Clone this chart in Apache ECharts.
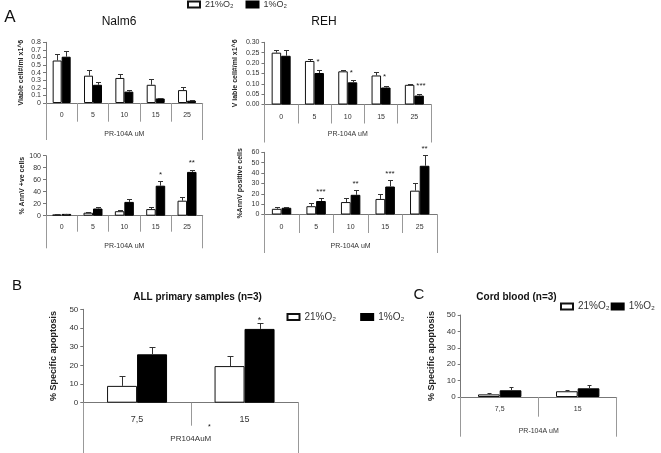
<!DOCTYPE html>
<html><head><meta charset="utf-8">
<script src="https://cdn.jsdelivr.net/npm/echarts@6/dist/echarts.min.js"></script>
<style>html,body{margin:0;padding:0;background:#fff}#c{width:661px;height:453px}</style>
</head><body><div id="c"></div>
<script>
// ---------- data ----------
const doses = ['0', '5', '10', '15', '25'];
const outerLabelA = ['PR-104A uM'];
const nalmViab21 = [0.56, 0.36, 0.33, 0.24, 0.17];
const nalmViab21Err = [0.08, 0.08, 0.05, 0.08, 0.04];
const nalmViab1 = [0.61, 0.24, 0.15, 0.06, 0.03];
const nalmViab1Err = [0.07, 0.04, 0.02, 0.01, 0.005];
const nalmViabStars = ['', '', '', '', ''];
const rehViab21 = [0.25, 0.21, 0.16, 0.14, 0.095];
const rehViab21Err = [0.012, 0.008, 0.008, 0.015, 0.005];
const rehViab1 = [0.235, 0.152, 0.107, 0.082, 0.043];
const rehViab1Err = [0.03, 0.015, 0.011, 0.005, 0.006];
const rehViabStars = ['', '*', '*', '*', '***'];
const nalmAnnV21 = [2, 5, 7.5, 11, 25];
const nalmAnnV21Err = [0.5, 1.5, 2, 4, 6];
const nalmAnnV1 = [3, 12, 23, 50, 73];
const nalmAnnV1Err = [0.5, 2, 4.5, 8, 4];
const nalmAnnVStars = ['', '', '', '*', '**'];
const rehAnnV21 = [5.5, 8, 12, 15, 23];
const rehAnnV21Err = [2, 3, 3.5, 5, 7];
const rehAnnV1 = [6.5, 13, 19, 27, 47];
const rehAnnV1Err = [1, 2.5, 4.5, 6.5, 10];
const rehAnnVStars = ['', '***', '**', '***', '**'];
const primDoses = ['7,5', '15'];
const outerLabelB = ['PR104AuM'];
const allApop21 = [9, 19.6];
const allApop21Err = [5.4, 5.4];
const allApop1 = [25.9, 39.5];
const allApop1Err = [4.1, 3];
const allApopStars = ['', '*'];
const cordDoses = ['7,5', '15'];
const outerLabelC = ['PR-104A uM'];
const cord21 = [1.6, 3.5];
const cord21Err = [0.6, 0.5];
const cord1 = [4.1, 5.3];
const cord1Err = [2, 2];
const cordStars = ['', ''];
const seriesNames = ['21%O₂', '1%O₂'];

// ---------- layout ----------
const FONT = '"Liberation Sans", Arial, sans-serif';
const TXT = '#333';
const panels = [
  {grid:{left:46, top:42.3, width:156.7, height:60.7}, cats:doses, outer:outerLabelA, max:0.8, interval:0.1, fmt:null,
   v21:nalmViab21, e21:nalmViab21Err, v1:nalmViab1, e1:nalmViab1Err, stars:nalmViabStars, starMode:'black', starGap:8, starFs:8,
   barW:9, cap:5, tick:18.7, outerTick:37, labM:8.5, outM:27.5, fs:7, yfs:7, outFs:7,
   yName:'Viable cell#/ml x1^6', yNameGap:21, yNameFs:7},
  {grid:{left:264.5, top:42.3, width:166.5, height:62.2}, cats:doses, outer:outerLabelA, max:0.3, interval:0.05, fmt:v=>v.toFixed(2),
   v21:rehViab21, e21:rehViab21Err, v1:rehViab1, e1:rehViab1Err, stars:rehViabStars, starMode:'white', starGap:0, starFs:8,
   barW:9.5, cap:5, tick:19, outerTick:38, labM:9, outM:26.5, fs:7, yfs:7, outFs:7,
   yName:'V iable cell#/ml x1^6', yNameGap:26, yNameFs:7},
  {grid:{left:46, top:155.7, width:156.7, height:60}, cats:doses, outer:outerLabelA, max:100, interval:20, fmt:null,
   v21:nalmAnnV21, e21:nalmAnnV21Err, v1:nalmAnnV1, e1:nalmAnnV1Err, stars:nalmAnnVStars, starMode:'black', starGap:8, starFs:8,
   barW:9.5, cap:5, tick:16, outerTick:32.6, labM:8, outM:27, fs:7, yfs:7, outFs:7,
   yName:'% AnnV +ve cells', yNameGap:20, yNameFs:7},
  {grid:{left:264.3, top:152.3, width:172.7, height:62.2}, cats:doses, outer:outerLabelA, max:60, interval:10, fmt:null,
   v21:rehAnnV21, e21:rehAnnV21Err, v1:rehAnnV1, e1:rehAnnV1Err, stars:rehAnnVStars, starMode:'black', starGap:8, starFs:8,
   barW:9.7, cap:5, tick:18.5, outerTick:38.5, labM:9, outM:28, fs:7, yfs:7, outFs:7,
   yName:'%AnnV positive cells', yNameGap:20.5, yNameFs:7},
  {grid:{left:83.3, top:309.3, width:215, height:93.4}, cats:primDoses, outer:outerLabelB, max:50, interval:10, fmt:null,
   v21:allApop21, e21:allApop21Err, v1:allApop1, e1:allApop1Err, stars:allApopStars, starMode:'black', starGap:5, starFs:9,
   barW:30, cap:6, tick:23, outerTick:52, labM:12, outM:32.5, fs:9, yfs:8, outFs:8,
   yName:'% Specific apoptosis', yNameGap:25.5, yNameFs:9},
  {grid:{left:460.7, top:315, width:156, height:82}, cats:cordDoses, outer:outerLabelC, max:50, interval:10, fmt:null,
   v21:cord21, e21:cord21Err, v1:cord1, e1:cord1Err, stars:cordStars, starMode:'black', starGap:5, starFs:9,
   barW:21.7, cap:4, tick:19.7, outerTick:39.7, labM:9, outM:30.5, fs:7, yfs:8, outFs:7,
   yName:'% Specific apoptosis', yNameGap:24.5, yNameFs:9}
];

const grid = [], xAxis = [], yAxis = [], series = [];
panels.forEach((p, gi) => {
  grid.push(Object.assign({containLabel:false}, p.grid));
  xAxis.push({type:'category', gridIndex:gi, data:p.cats, position:'bottom',
    axisLine:{show:true, lineStyle:{color:'#777', width:1}},
    axisTick:{show:true, interval:0, length:p.tick, lineStyle:{color:'#999'}},
    axisLabel:{interval:0, margin:p.labM, fontSize:p.fs, color:TXT, fontFamily:FONT},
    splitLine:{show:false}});
  xAxis.push({type:'category', gridIndex:gi, data:p.outer, position:'bottom',
    axisLine:{show:false},
    axisTick:{show:true, interval:0, length:p.outerTick, lineStyle:{color:'#999'}},
    axisLabel:{interval:0, margin:p.outM, fontSize:p.outFs, color:TXT, fontFamily:FONT},
    splitLine:{show:false}});
  yAxis.push({type:'value', gridIndex:gi, min:0, max:p.max, interval:p.interval,
    axisLine:{show:true, lineStyle:{color:'#777'}},
    axisTick:{show:true, length:3, lineStyle:{color:'#777'}},
    axisLabel:{fontSize:p.yfs, color:TXT, fontFamily:FONT, margin:5, formatter:p.fmt || undefined},
    splitLine:{show:false},
    name:p.yName, nameLocation:'middle', nameRotate:90, nameGap:p.yNameGap,
    nameTextStyle:{fontSize:p.yNameFs, fontWeight:'bold', color:'#222', fontFamily:FONT}});
  const xi = gi * 2;
  series.push({type:'bar', name:seriesNames[0], xAxisIndex:xi, yAxisIndex:gi, data:p.v21,
    barWidth:p.barW, barGap:'0%', itemStyle:{color:'#fff', borderColor:'#111', borderWidth:1}});
  series.push({type:'bar', name:seriesNames[1], xAxisIndex:xi, yAxisIndex:gi, data:p.v1,
    barWidth:p.barW, barGap:'0%', itemStyle:{color:'#000', borderColor:'#000', borderWidth:1}});
  const errData = p.cats.map((c, i) => [i, p.v21[i], p.e21[i], p.v1[i], p.e1[i]]);
  series.push({type:'custom', xAxisIndex:xi, yAxisIndex:gi, data:errData, z:5, silent:true,
    encode:{x:0, y:1},
    renderItem:(params, api) => {
      const i = api.value(0);
      const ch = [];
      [[1, -1], [3, 1]].forEach(([k, side]) => {
        const v = api.value(k), e = api.value(k + 1);
        const b = api.coord([i, v]), t = api.coord([i, v + e]);
        const x = Math.round(b[0] + side * p.barW / 2) + 0.5;
        const yt = Math.round(t[1]) + 0.5;
        ch.push({type:'line', shape:{x1:x, y1:b[1], x2:x, y2:yt}, style:{stroke:'#333', lineWidth:1}});
        ch.push({type:'line', shape:{x1:x - p.cap / 2, y1:yt, x2:x + p.cap / 2, y2:yt}, style:{stroke:'#333', lineWidth:1}});
      });
      const s = p.stars[params.dataIndex];
      if (s) {
        if (p.starMode === 'white') {
          const c = api.coord([i, api.value(1)]);
          ch.push({type:'text', x:c[0] + 2, y:c[1] + 1, style:{text:s, fill:'#222', fontSize:p.starFs, fontFamily:FONT, align:'left', verticalAlign:'middle'}});
        } else {
          const c = api.coord([i, api.value(3) + api.value(4)]);
          ch.push({type:'text', x:c[0] + p.barW / 2, y:c[1] - p.starGap + p.starFs * 0.22, style:{text:s, fill:'#222', fontSize:p.starFs, fontFamily:FONT, align:'center', verticalAlign:'middle'}});
        }
      }
      return {type:'group', children:ch};
    }});
});

const legendBase = {data:seriesNames, icon:'rect', itemWidth:12, itemHeight:6, padding:0, selectedMode:false,
  textStyle:{fontFamily:FONT, color:TXT}};
const legend = [
  Object.assign({}, legendBase, {left:187, top:0, itemGap:12, textStyle:{fontFamily:FONT, color:TXT, fontSize:9}}),
  Object.assign({}, legendBase, {left:286.5, top:312, itemGap:24, textStyle:{fontFamily:FONT, color:TXT, fontSize:10}}),
  Object.assign({}, legendBase, {left:560, top:301.5, itemGap:1, textStyle:{fontFamily:FONT, color:TXT, fontSize:10}})
];

const txt = (x, y, text, size, weight) => ({type:'text', x, y, silent:true,
  style:{text, fontSize:size, fontWeight:weight || 'normal', fontFamily:FONT, fill:'#111', align:'center', verticalAlign:'middle'}});
const graphic = [
  txt(10, 17, 'A', 17), txt(119, 22, 'Nalm6', 12), txt(324, 22, 'REH', 12),
  txt(17, 285.5, 'B', 15), txt(419, 295, 'C', 15),
  txt(197.5, 297.5, 'ALL primary samples (n=3)', 10, 'bold'),
  txt(516.5, 297, 'Cord blood (n=3)', 10, 'bold'),
  txt(209.3, 427, '*', 7)
];

const chart = echarts.init(document.getElementById('c'), null, {renderer:'canvas'});
chart.setOption({animation:false, backgroundColor:'#fff', grid, xAxis, yAxis, series, legend, graphic});
</script></body></html>
